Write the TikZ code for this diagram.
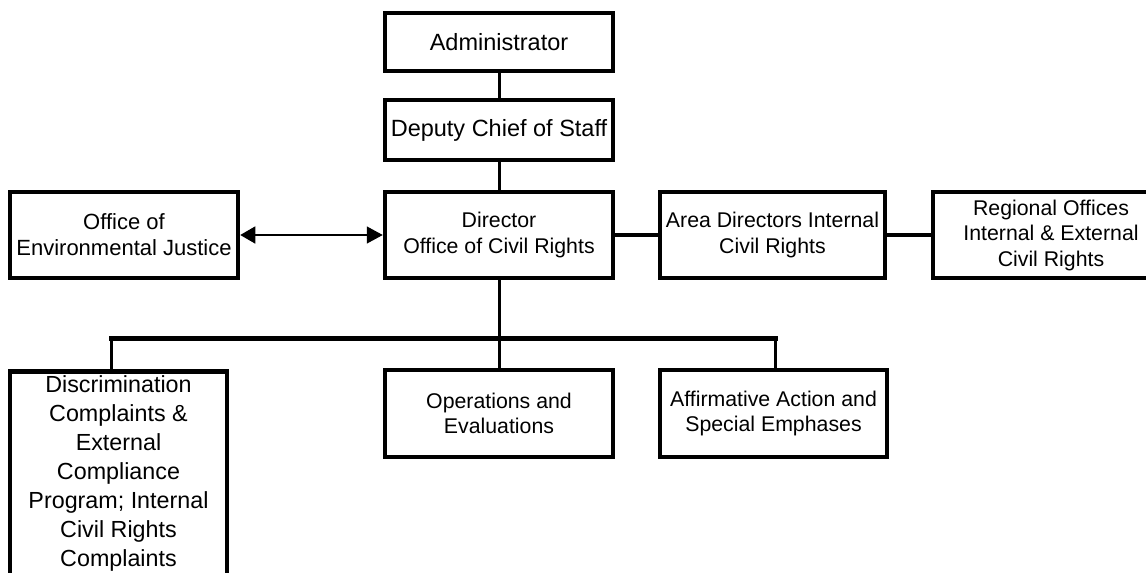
\documentclass[tikz,border=0pt]{standalone}
\usepackage{fontspec}
\setmainfont{Liberation Sans}
\usetikzlibrary{arrows.meta}
\begin{document}
\begin{tikzpicture}[x=1pt,y=-1pt,
  txt/.style={font=\fontsize{21.3}{25.5}\selectfont, align=center, inner sep=0pt},
  big/.style={font=\fontsize{23.5}{27}\selectfont},
  box/.style={txt, draw=black, line width=4.5pt, fill=white},
  conn/.style={draw=black, line width=3pt},
  bar/.style={draw=black, line width=5pt, line cap=rect},
  side/.style={draw=black, line width=4.5pt},
  biarrow/.style={draw=black, line width=1.5pt, {Triangle[length=15pt,width=17pt]}-{Triangle[length=16pt,width=17pt]}}]
\useasboundingbox (0,0) rectangle (1146,573);
\clip (0,0) rectangle (1146,573);
% nodes
\node[box, big, minimum width=228, minimum height=58] (adm) at (499,42) {Administrator};
\node[box, big, minimum width=228, minimum height=60] (dep) at (499,130) {Deputy Chief of Staff};
\node[box, minimum width=228, minimum height=86] (dir) at (499,235) {Director\\Office of Civil Rights};
\node[box, font=\fontsize{22}{26}\selectfont, minimum width=228, minimum height=86] (ej) at (124,235) {Office of\\Environmental Justice};
\node[box, minimum width=225, minimum height=86] (area) at (772.5,235) {Area Directors Internal\\Civil Rights};
\node[box, minimum width=236, minimum height=86] (reg) at (1051,235) {Regional Offices\\Internal \& External\\Civil Rights};
\node[box, minimum width=228, minimum height=87] (ops) at (499,413.5) {Operations and\\Evaluations};
\node[box, minimum width=227, minimum height=87] (aff) at (773.5,413.5) {Affirmative Action and\\Special Emphases};
\node[box, minimum width=217, minimum height=240, anchor=north] (disc) at (118.5,369) {};
\node[txt, font=\fontsize{23.3}{29}\selectfont] (disclabel) at (118.5,473) {Discrimination\\Complaints \&\\External\\Compliance\\Program; Internal\\Civil Rights\\Complaints};
% connectors
\coordinate (barL) at (111,338);
\coordinate (barR) at (775,338);
\draw[conn] (adm.south) -- (dep.north);
\draw[conn] (dep.south) -- (dir.north);
\draw[conn] (dir.south) -- (ops.north);
\draw[bar] (barL) -- (barR);
\draw[conn] (barL) -- (barL |- disc.north);
\draw[conn] (barR) -- (barR |- aff.north);
\draw[side] (dir.east) -- (area.west);
\draw[side] (area.east) -- (reg.west);
\draw[biarrow] (ej.east) -- (dir.west);
\end{tikzpicture}
\end{document}
